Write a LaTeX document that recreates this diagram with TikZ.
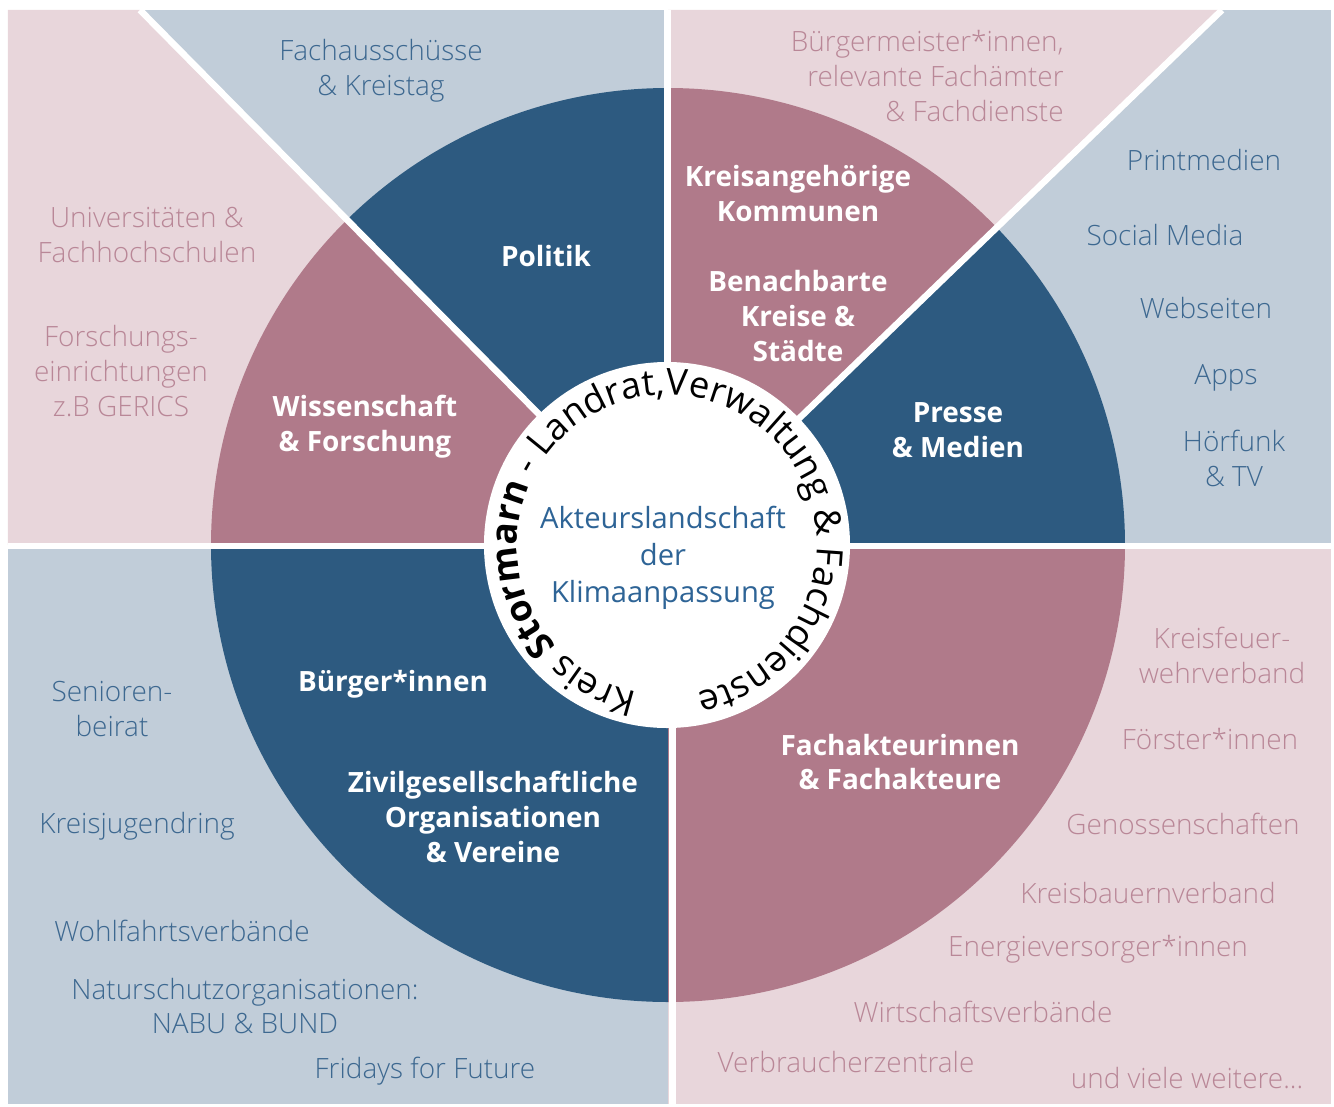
\documentclass[tikz,border=0pt]{standalone}
\usepackage{fontspec}
\setmainfont{Open Sans}
\IfFontExistsTF{Open Sans Light}{\newfontfamily\thinfont{Open Sans Light}}{\newfontfamily\thinfont{Open Sans}}
\usetikzlibrary{decorations.text}

\definecolor{wheelblue}{HTML}{2D5A80}
\definecolor{wheelpink}{HTML}{B07A8A}
\definecolor{panelblue}{HTML}{C1CDD9}
\definecolor{panelpink}{HTML}{E8D6DB}
\definecolor{textblue}{HTML}{3D6890}
\definecolor{textpink}{HTML}{B98797}
\definecolor{coreblue}{HTML}{2E6496}
\newcommand\ringfont{\fontsize{20.8}{24}\selectfont}

\begin{document}
\begin{tikzpicture}[x=0.02cm, y=0.02cm,
    sector/.style = {font=\fontsize{15.9}{19.9}\selectfont\bfseries, text=white, align=center, inner sep=0},
    bluelist/.style = {font=\fontsize{15.9}{19.9}\selectfont\thinfont, text=textblue, align=center, inner sep=0},
    pinklist/.style = {font=\fontsize{15.9}{19.9}\selectfont\thinfont, text=textpink, align=center, inner sep=0},
    gap/.style = {white, line width=3.7pt}]
    \useasboundingbox (-668,-561) rectangle (666,545);

    \fill[panelblue] (-660,-559) rectangle (663,535);
    \fill[panelpink] (-660,535) -- (-528,535) -- (0,0) -- (-660,0) -- cycle;
    \fill[panelpink] (0,535) -- (554,535) -- (0,0) -- cycle;
    \fill[panelpink] (0,0) rectangle (663,-559);

    \foreach \a/\b/\c in {0/44/wheelblue, 44/90/wheelpink, 90/134.6/wheelblue,
                          134.6/180/wheelpink, 180/270/wheelblue, 270/360/wheelpink}
        \fill[\c] (0,0) -- (\a:457) arc[start angle=\a, end angle=\b, radius=457] -- cycle;

    \draw[gap] (0,0) -- (-528,535);
    \draw[gap] (0,0) -- (554,535);
    \draw[gap] (-0.5,0) -- (-0.5,535);
    \draw[gap] (4.5,0) -- (4.5,-559);
    \draw[gap] (-660,-1) -- (663,-1);
    \fill[white] (-1,0) circle[radius=183];

    \path[decorate, decoration={text along path, text align=center,
        text={|\ringfont|Kreis |\ringfont\bfseries|Stormarn|\ringfont| - Landrat,Verwaltung {\&} Fachdienste}}]
        (-1,0) ++(268:150) arc[start angle=268, end angle=-88, radius=150];

    \node[font=\fontsize{16.6}{21.2}\selectfont, text=coreblue, align=center] (core) at (-5,-13) {Akteurslandschaft\\der\\Klimaanpassung};

    \node[sector] (politik) at (-122,289) {Politik};
    \node[sector] (kommunen) at (130,351) {Kreisangehörige\\Kommunen};
    \node[sector] (nachbarn) at (130,229) {Benachbarte\\Kreise \&\\Städte};
    \node[sector] (wissen) at (-303,118) {Wissenschaft\\\& Forschung};
    \node[sector] (presse) at (290,115) {Presse\\\& Medien};
    \node[sector] (buerger) at (-275,-139) {Bürger*innen};
    \node[sector] (zivil) at (-175,-272) {Zivilgesellschaftliche\\Organisationen\\\& Vereine};
    \node[sector] (fachakt) at (232,-217) {Fachakteurinnen\\\& Fachakteure};

    \node[bluelist] (ausschuss) at (-287,474) {Fachausschüsse\\\& Kreistag};
    \node[pinklist] (uni) at (-521,310) {Universitäten \&\\Fachhochschulen};
    \node[pinklist] (institut) at (-547,174) {Forschungs-\\einrichtungen\\z.B GERICS};
    \node[pinklist, align=right, anchor=east] (amt) at (396,469) {Bürgermeister*innen,\\relevante Fachämter\\\& Fachdienste};
    \node[bluelist] (print) at (536,385) {Printmedien};
    \node[bluelist] (social) at (497,310) {Social Media};
    \node[bluelist] (web) at (538,237) {Webseiten};
    \node[bluelist] (apps) at (558,167) {Apps};
    \node[bluelist] (funk) at (566,87) {Hörfunk\\\& TV};
    \node[pinklist] (feuerwehr) at (554,-110) {Kreisfeuer-\\wehrverband};
    \node[pinklist] (foerster) at (542,-194) {Förster*innen};
    \node[pinklist] (genossen) at (515,-279) {Genossenschaften};
    \node[pinklist] (bauern) at (480,-348) {Kreisbauernverband};
    \node[pinklist] (energie) at (430,-404) {Energieversorger*innen};
    \node[pinklist] (wirtschaft) at (315,-467) {Wirtschaftsverbände};
    \node[pinklist] (verbraucher) at (178,-517) {Verbraucherzentrale};
    \node[pinklist] (weitere) at (519,-533) {und viele weitere...};
    \node[bluelist] (senioren) at (-556,-164) {Senioren-\\beirat};
    \node[bluelist] (jugend) at (-531,-281) {Kreisjugendring};
    \node[bluelist] (wohlfahrt) at (-486,-386) {Wohlfahrtsverbände};
    \node[bluelist] (natur) at (-423,-461) {Naturschutzorganisationen:\\NABU \& BUND};
    \node[bluelist] (fridays) at (-243,-526) {Fridays for Future};
\end{tikzpicture}
\end{document}
